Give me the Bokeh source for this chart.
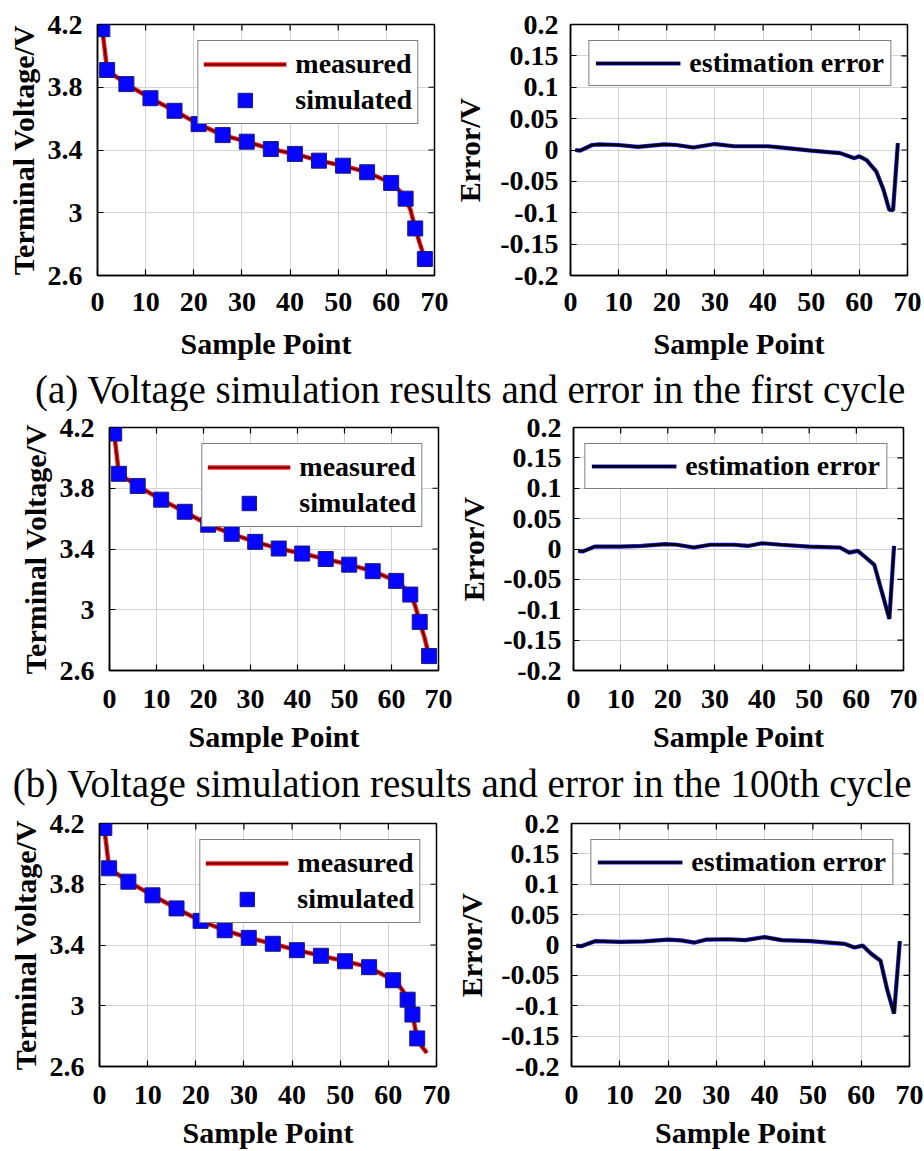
import math
from bokeh.plotting import figure
from bokeh.models import Range1d, FixedTicker, Legend, LegendItem
from bokeh.layouts import column, row
from bokeh.embed import file_html
from bokeh.resources import INLINE
from bokeh.core.properties import value

FONT = "Liberation Serif"

# ---------------- data ----------------
sample_ticks = [0, 10, 20, 30, 40, 50, 60, 70]
voltage_ticks = [2.6, 3.0, 3.4, 3.8, 4.2]
voltage_tick_labels = ["2.6", "3", "3.4", "3.8", "4.2"]
error_ticks = [-0.2, -0.15, -0.1, -0.05, 0.0, 0.05, 0.1, 0.15, 0.2]
error_tick_labels = ["-0.2", "-0.15", "-0.1", "-0.05", "0", "0.05", "0.1", "0.15", "0.2"]

captions = [
    "(a) Voltage simulation results and error in the first cycle",
    "(b) Voltage simulation results and error in the 100th cycle",
]

# row 1
c1_sim_x = [1, 2, 6, 11, 16, 21, 26, 31, 36, 41, 46, 51, 56, 61, 64, 66, 68]
c1_sim_v = [4.17, 3.91, 3.82, 3.73, 3.65, 3.565, 3.495, 3.453, 3.406, 3.375, 3.332, 3.30, 3.258, 3.19, 3.09, 2.90, 2.705]
c1_meas_x = [1, 2, 6, 11, 16, 21, 26, 31, 36, 41, 46, 51, 56, 61, 62, 63, 64, 65, 66, 67, 68]
c1_meas_v = [4.17, 3.91, 3.82, 3.73, 3.65, 3.565, 3.495, 3.453, 3.406, 3.375, 3.332, 3.30, 3.258, 3.19, 3.165, 3.13, 3.09, 3.02, 2.90, 2.80, 2.705]
c1_err_x = [1, 2, 4.5, 6, 10, 14, 19.5, 22, 25.5, 30, 34, 37.5, 41, 45, 50, 56, 59, 60, 61.5, 63.5, 65, 66.2, 67, 68]
c1_err_v = [0.0, -0.001, 0.008, 0.009, 0.008, 0.005, 0.009, 0.008, 0.004, 0.0095, 0.006, 0.006, 0.006, 0.003, -0.001, -0.005, -0.013, -0.01, -0.016, -0.034, -0.063, -0.095, -0.096, 0.011]

# row 2
c2_sim_x = [1, 2, 6, 11, 16, 21, 26, 31, 36, 41, 46, 51, 56, 61, 64, 66, 68]
c2_sim_v = [4.16, 3.895, 3.815, 3.725, 3.645, 3.56, 3.50, 3.447, 3.403, 3.37, 3.334, 3.297, 3.254, 3.19, 3.10, 2.92, 2.695]
c2_meas_x = [1, 2, 6, 11, 16, 21, 26, 31, 36, 41, 46, 51, 56, 61, 62, 63, 64, 65, 66, 67, 68]
c2_meas_v = [4.16, 3.895, 3.815, 3.725, 3.645, 3.56, 3.50, 3.447, 3.403, 3.37, 3.334, 3.297, 3.254, 3.19, 3.165, 3.135, 3.10, 3.03, 2.92, 2.82, 2.695]
c2_err_x = [1, 2, 4.5, 10, 14.5, 19.5, 22, 25.5, 29, 34, 37, 40, 44, 50, 56.5, 58.5, 60.3, 62, 63.8, 65.6, 67, 68]
c2_err_v = [-0.003, -0.004, 0.004, 0.004, 0.005, 0.008, 0.007, 0.0025, 0.007, 0.007, 0.005, 0.0095, 0.007, 0.004, 0.0025, -0.006, -0.003, -0.014, -0.026, -0.076, -0.115, 0.005]

# row 3
c3_sim_x = [1, 2, 6, 11, 16, 21, 26, 31, 36, 41, 46, 51, 56, 61, 64, 65, 66]
c3_sim_v = [4.17, 3.905, 3.817, 3.727, 3.641, 3.559, 3.497, 3.447, 3.408, 3.366, 3.329, 3.293, 3.254, 3.168, 3.04, 2.942, 2.785]
c3_meas_x = [1, 2, 6, 11, 16, 21, 26, 31, 36, 41, 46, 51, 56, 61, 62, 63, 64, 65, 66, 67, 68]
c3_meas_v = [4.17, 3.905, 3.817, 3.727, 3.641, 3.559, 3.497, 3.447, 3.408, 3.366, 3.329, 3.293, 3.254, 3.168, 3.14, 3.10, 3.04, 2.942, 2.785, 2.73, 2.69]
c3_err_x = [1, 2, 5, 10, 15, 20, 22.7, 25.5, 28, 32.5, 36, 40, 43.5, 49.5, 56.5, 58.6, 60.3, 62, 64, 65.4, 66.8, 68]
c3_err_v = [-0.001, -0.002, 0.0065, 0.005, 0.006, 0.009, 0.0075, 0.004, 0.009, 0.0095, 0.008, 0.013, 0.008, 0.0065, 0.002, -0.004, -0.001, -0.014, -0.026, -0.074, -0.113, 0.0065]


def style_axis(ax, label):
    ax.major_label_text_font = FONT
    ax.major_label_text_font_style = "bold"
    ax.major_label_text_font_size = "28px"
    ax.major_label_text_color = "black"
    ax.axis_label_text_font = FONT
    ax.axis_label_text_font_style = "bold"
    ax.axis_label_text_font_size = "30px"
    ax.axis_label_text_color = "black"
    ax.major_tick_in = 6
    ax.major_tick_out = 0
    ax.major_tick_line_color = "black"
    ax.major_tick_line_width = 1.2
    ax.minor_tick_line_color = None
    ax.axis_line_color = "black"
    ax.axis_line_width = 1.5
    ax.axis_label = label


def base_fig(w, h, b, yr, yticks, ylabels, ylabel, xs, ys):
    p = figure(width=w, height=h, x_range=Range1d(0, 70), y_range=Range1d(*yr),
               output_backend="svg", toolbar_location=None,
               min_border_left=b[0], min_border_right=b[1],
               min_border_top=b[2], min_border_bottom=b[3])
    p.outline_line_color = "black"
    p.outline_line_width = 1.5
    p.xaxis.ticker = FixedTicker(ticks=sample_ticks)
    p.yaxis.ticker = FixedTicker(ticks=yticks)
    p.yaxis.major_label_overrides = {t: l for t, l in zip(yticks, ylabels)}
    style_axis(p.xaxis[0], "Sample Point")
    style_axis(p.yaxis[0], ylabel)
    p.xaxis.major_label_standoff = xs[0]
    p.xaxis.axis_label_standoff = xs[1]
    p.yaxis.major_label_standoff = ys[0]
    p.yaxis.axis_label_standoff = ys[1]
    p.grid.grid_line_color = "#d4d4d4"
    p.grid.grid_line_width = 1
    p.xgrid.ticker = FixedTicker(ticks=sample_ticks)
    p.ygrid.ticker = FixedTicker(ticks=yticks)
    p.background_fill_color = "white"
    p.border_fill_color = "white"
    # inward box ticks on the top and right edges (half of each dash is clipped by the frame)
    p.scatter(x=sample_ticks, y=[yr[1]] * len(sample_ticks), marker="dash", angle=math.pi / 2,
              size=12, line_color="black", line_width=1.2)
    p.scatter(x=[70] * len(yticks), y=yticks, marker="dash", size=12,
              line_color="black", line_width=1.2)
    return p


def style_legend(lg, glyph_w, glyph_h, pad):
    lg.location = "top_right"
    lg.margin = 16
    lg.padding = pad
    lg.spacing = 0
    lg.glyph_width = glyph_w
    lg.glyph_height = glyph_h
    lg.label_height = glyph_h
    lg.label_standoff = 9
    lg.label_text_font = FONT
    lg.label_text_font_style = "bold"
    lg.label_text_font_size = "28px"
    lg.label_text_color = "black"
    lg.border_line_color = "black"
    lg.border_line_width = 1.5
    lg.background_fill_color = "white"
    lg.background_fill_alpha = 1.0


def voltage_fig(w, h, b, xs, ys, mx, mv, sx, sv):
    p = base_fig(w, h, b, (2.6, 4.2), voltage_ticks, voltage_tick_labels, "Terminal Voltage/V", xs, ys)
    r1 = p.line(mx, mv, line_color="#ff1a1a", line_width=4.5)
    r2 = p.line(mx, mv, line_color="#700000", line_width=2.2)
    r3 = p.scatter(sx, sv, marker="square", size=15, fill_color="#0505ff", line_color="#1a1a80", line_width=1)
    lg = Legend(items=[LegendItem(label="measured", renderers=[r1, r2]),
                       LegendItem(label="simulated", renderers=[r3])])
    style_legend(lg, 83, 36, 5)
    p.add_layout(lg)
    return p


def error_fig(w, h, b, xs, ys, ex, ev):
    p = base_fig(w, h, b, (-0.2, 0.2), error_ticks, error_tick_labels, "Error/V", xs, ys)
    r1 = p.line(ex, ev, line_color="#1a1aff", line_width=4.2)
    r2 = p.line(ex, ev, line_color="black", line_width=2.6)
    lg = Legend(items=[LegendItem(label="estimation error", renderers=[r1, r2])])
    style_legend(lg, 85, 30, 6)
    p.add_layout(lg)
    return p


def caption_fig(text, h, cx, middle_from_top):
    c = figure(width=924, height=h, x_range=Range1d(0, 924), y_range=Range1d(0, h),
               x_axis_type=None, y_axis_type=None, output_backend="svg",
               toolbar_location=None, min_border=0)
    c.grid.visible = False
    c.outline_line_color = None
    c.text(x=[cx], y=[h - middle_from_top], text=[text], text_font=value(FONT),
           text_font_size="39px", text_align="center", text_baseline="middle",
           text_color="black")
    return c


p1 = voltage_fig(450, 362, (97, 16, 24, 86), (17, 13), (15, 5), c1_meas_x, c1_meas_v, c1_sim_x, c1_sim_v)
p2 = error_fig(474, 362, (120, 17, 24, 86), (17, 13), (12, 11), c1_err_x, c1_err_v)
cap1 = caption_fig(captions[0], 49, 470, 27)
p3 = voltage_fig(454, 349, (109, 16, 16, 90), (19, 9), (15, 5), c2_meas_x, c2_meas_v, c2_sim_x, c2_sim_v)
p4 = error_fig(470, 349, (118, 21, 16, 90), (19, 9), (12, 10), c2_err_x, c2_err_v)
cap2 = caption_fig(captions[1], 47, 462, 23)
p5 = voltage_fig(452, 344, (99, 16, 16, 84), (19, 9), (15, 5), c3_meas_x, c3_meas_v, c3_sim_x, c3_sim_v)
p6 = error_fig(472, 344, (118, 15, 16, 84), (19, 9), (12, 10), c3_err_x, c3_err_v)

layout = column(row(p1, p2), cap1, row(p3, p4), cap2, row(p5, p6))

open("out.html", "w").write(file_html(layout, INLINE))
